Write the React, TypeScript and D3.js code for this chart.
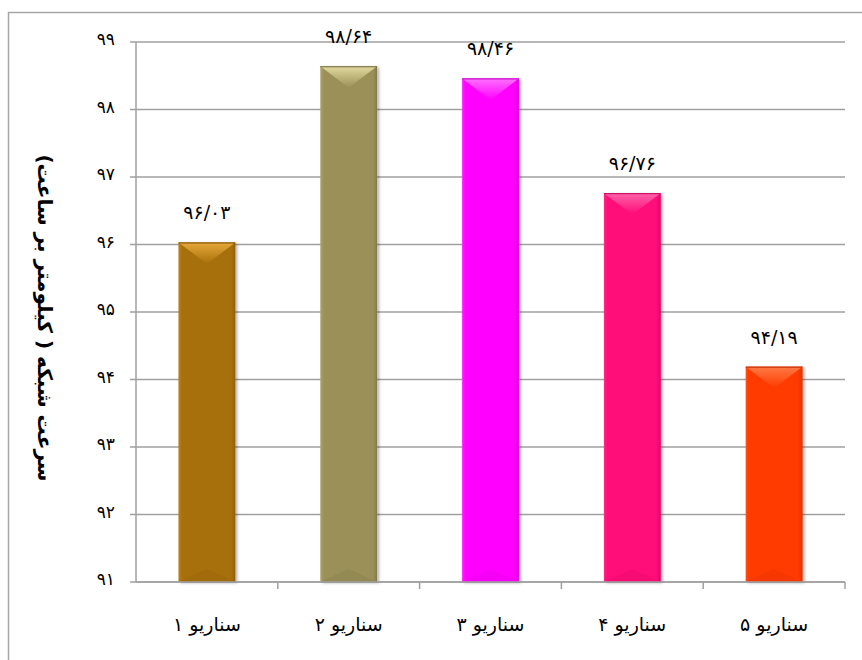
import React from "react";
import * as d3 from "d3";

const categories = ["سناریو ۱", "سناریو ۲", "سناریو ۳", "سناریو ۴", "سناریو ۵"];
const values = [96.03, 98.64, 98.46, 96.76, 94.19];
const valueLabels = ["۹۶/۰۳", "۹۸/۶۴", "۹۸/۴۶", "۹۶/۷۶", "۹۴/۱۹"];
const yTicks = [91, 92, 93, 94, 95, 96, 97, 98, 99];
const yTickLabels = ["۹۱", "۹۲", "۹۳", "۹۴", "۹۵", "۹۶", "۹۷", "۹۸", "۹۹"];
const baseColors = ["#A87008", "#9A9058", "#FF00FF", "#FF0A78", "#FF3A00"];
const lightColors = ["#E6A83C", "#E2DA9E", "#FF70FF", "#FF62AA", "#FF7A44"];
const darkColors = ["#7A5004", "#6E673C", "#C000C0", "#C00058", "#C02A00"];
const yTitle = "سرعت شبکه ( کیلومتر بر ساعت)";

const W = 862;
const H = 660;
const left = 136;
const right = 845;
const top = 42;
const bottom = 582;

export default function App() {
  const x = d3.scaleBand<string>().domain(categories).range([left, right]).paddingInner(0.6).paddingOuter(0.3);
  const xb = d3.scaleBand<string>().domain(categories).range([left, right]);
  const y = d3.scaleLinear().domain([91, 99]).range([bottom, top]);
  const font = "'DejaVu Sans', sans-serif";
  const bw = x.bandwidth();

  return (
    <svg width={W} height={H} style={{ position: "absolute", left: 0, top: 0 }}>
      <defs>
        <filter id="sh" x="-20%" y="-10%" width="140%" height="120%">
          <feDropShadow dx="2" dy="1" stdDeviation="1.5" floodColor="#000" floodOpacity="0.3" />
        </filter>
        {baseColors.map((c, i) => (
          <linearGradient key={i} id={`tg${i}`} x1="0" y1="0" x2="0" y2="1">
            <stop offset="0" stopColor={lightColors[i]} />
            <stop offset="1" stopColor={c} />
          </linearGradient>
        ))}
        {baseColors.map((c, i) => (
          <linearGradient key={`s${i}`} id={`sg${i}`} x1="0" y1="0" x2="1" y2="0">
            <stop offset="0" stopColor={lightColors[i]} stopOpacity="0.35" />
            <stop offset="0.08" stopColor={c} stopOpacity="0" />
            <stop offset="0.9" stopColor={c} stopOpacity="0" />
            <stop offset="1" stopColor={darkColors[i]} stopOpacity="0.6" />
          </linearGradient>
        ))}
      </defs>
      <rect x={8.5} y={12.5} width={1000} height={1000} fill="#fff" stroke="#A6A6A6" strokeWidth={1.5} />
      {yTicks.map((t, k) => (
        <g key={t}>
          <line x1={130} x2={right} y1={y(t)} y2={y(t)} stroke="#A0A0A0" strokeWidth={1.5} />
          <text x={115} y={y(t)} dy="0.2em" textAnchor="end" fontFamily={font} fontSize={17} fill="#000">
            {yTickLabels[k]}
          </text>
        </g>
      ))}
      <line x1={left} x2={left} y1={top} y2={bottom} stroke="#A0A0A0" strokeWidth={1.5} />
      {categories.map((c) => (
        <line key={c} x1={xb(c)! + xb.bandwidth()} x2={xb(c)! + xb.bandwidth()} y1={bottom} y2={bottom + 7} stroke="#A0A0A0" strokeWidth={1.5} />
      ))}
      {categories.map((c, i) => {
        const x0 = x(c)!;
        const y0 = y(values[i]);
        const h = bottom - y0;
        const d = Math.min(bw * 0.38, h / 2);
        return (
          <g key={c}>
            <rect x={x0} y={y0} width={bw} height={h} fill={baseColors[i]} filter="url(#sh)" />
            <rect x={x0} y={y0} width={bw} height={h} fill={`url(#sg${i})`} />
            <path d={`M${x0},${y0}H${x0 + bw}L${x0 + bw / 2},${y0 + d}Z`} fill={`url(#tg${i})`} />
            <path d={`M${x0},${bottom}H${x0 + bw}L${x0 + bw / 2},${bottom - d * 0.6}Z`} fill={darkColors[i]} opacity={0.15} />
            <line x1={x0} x2={x0 + bw} y1={y0 + 0.5} y2={y0 + 0.5} stroke={darkColors[i]} strokeWidth={1} />
            <text x={x0 + bw / 2} y={y0 - 23} textAnchor="middle" fontFamily={font} fontSize={19} fill="#000">
              {valueLabels[i]}
            </text>
          </g>
        );
      })}
      <line x1={left} x2={right} y1={bottom} y2={bottom} stroke="#A0A0A0" strokeWidth={1.5} />
      {categories.map((c) => (
        <text key={c} x={xb(c)! + xb.bandwidth() / 2} y={631} textAnchor="middle" direction="rtl" fontFamily={font} fontSize={19} fill="#000">
          {c}
        </text>
      ))}
      <text transform={`translate(38,318) rotate(90)`} textAnchor="middle" direction="rtl" fontFamily={font} fontWeight="bold" fontSize={20} fill="#000">
        {yTitle}
      </text>
    </svg>
  );
}
